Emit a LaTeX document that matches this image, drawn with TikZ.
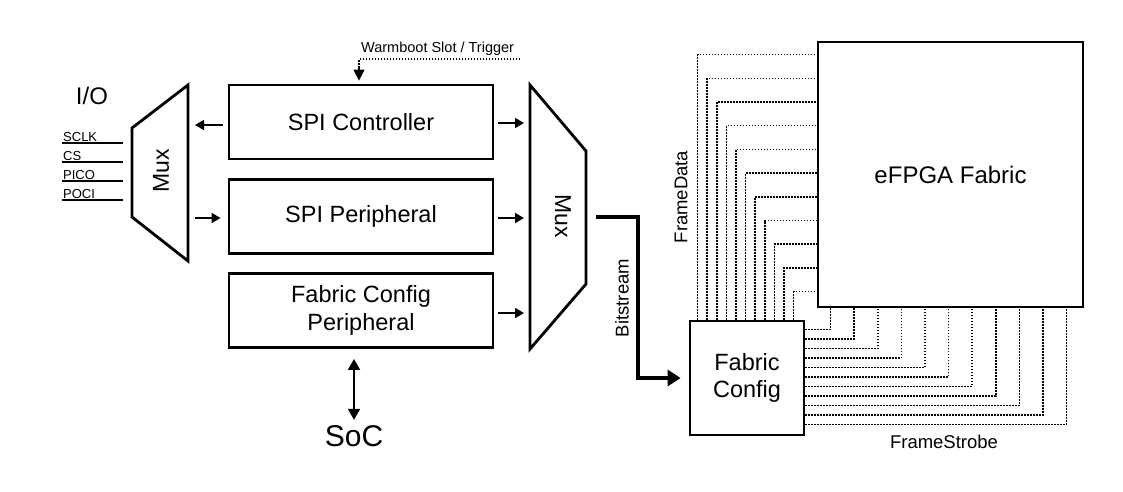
\documentclass[tikz,border=0pt]{standalone}
\usepackage{fontspec}
\setmainfont{Liberation Sans}
\usetikzlibrary{arrows.meta,calc}
\begin{document}
\begin{tikzpicture}[x=1pt,y=-1pt,
  blk/.style={draw,line width=2.8pt,minimum width=264pt,minimum height=74pt,inner sep=0pt,align=center,font=\fontsize{23.5}{27}\selectfont},
  muxline/.style={line width=2.8pt,line join=miter},
  muxlbl/.style={font=\fontsize{23}{26}\selectfont},
  sarrow/.style={line width=1.6pt,-{Triangle[length=9pt,width=10pt]}},
  dotline/.style={line width=1.5pt,dash pattern=on 1.5pt off 1.5pt},
  sig/.style={line width=2pt},
  siglbl/.style={font=\fontsize{13}{15}\selectfont,anchor=south west,inner sep=1pt}]
\useasboundingbox[fill=white] (0,0) rectangle (1123,491);

% left multiplexer (I/O side)
\draw[muxline] (132,128) -- (188,85) -- (188,261) -- (132,217) -- cycle;
\node[rotate=90,muxlbl] (lmux) at (161,171) {Mux};
\coordinate (lmuxR1) at (195,125);
\coordinate (lmuxR2) at (195,218);

% I/O pins
\node[font=\fontsize{24}{28}\selectfont] (io) at (92,96) {I/O};
\foreach \nm/\yy in {SCLK/143,CS/162,PICO/181,POCI/200}{
  \coordinate (p\nm a) at (62,\yy);
  \coordinate (p\nm b) at (123,\yy);
  \draw[sig] (p\nm a) -- (p\nm b);
  \node[siglbl] (l\nm) at (p\nm a) {\nm};
}

% SPI blocks
\node[blk] (ctrl) at (361,122) {SPI Controller};
\node[blk] (peri) at (361,216.5) {SPI Peripheral};
\node[blk] (fcp) at (361,310.5) {Fabric Config\\[1pt]Peripheral};

\draw[sarrow] ($(ctrl.west)+(-5,3)$) -- (lmuxR1);
\draw[sarrow] (lmuxR2) -- ($(peri.west)+(-7,1.5)$);

% right multiplexer
\draw[muxline] (530,85) -- (586,151) -- (586,284) -- (530,349) -- cycle;
\node[rotate=-90,muxlbl] (rmux) at (563,216) {Mux};
\coordinate (rmuxL1) at (524,123);
\coordinate (rmuxL2) at (524,218);
\coordinate (rmuxL3) at (524,313);
\draw[sarrow] ($(ctrl.east |- rmuxL1)+(4,0)$) -- (rmuxL1);
\draw[sarrow] ($(peri.east |- rmuxL2)+(4,0)$) -- (rmuxL2);
\draw[sarrow] ($(fcp.east |- rmuxL3)+(4,0)$) -- (rmuxL3);

% warmboot trigger
\node[font=\fontsize{14.5}{17}\selectfont,anchor=south west,inner sep=1pt] (wb) at (360,57) {Warmboot Slot / Trigger};
\coordinate (wbend) at (520,59);
\coordinate (wbx) at (359,59);
\draw[dotline,line width=1.3pt] (wbend) -- (wbx) -- ++(0,10);
\draw[-{Triangle[length=11pt,width=11pt]},line width=1.4pt] ($(wbx)+(0,8)$) -- ($(ctrl.north -| wbx)+(0,-3)$);

% SoC link
\node[font=\fontsize{30}{34}\selectfont] (soc) at (354,436) {SoC};
\draw[line width=1.8pt,{Triangle[length=11pt,width=12pt]}-{Triangle[length=11pt,width=12pt]}] ($(soc.north |- fcp.south)+(0,10)$) -- ($(soc.north)+(0,-2)$);

% fabric and config
\node[draw,line width=2.8pt,minimum width=265pt,minimum height=265pt,inner sep=0pt,font=\fontsize{24}{28}\selectfont] (fab) at (950.5,174.5) {eFPGA Fabric};
\node[draw,line width=2.8pt,minimum width=114pt,minimum height=114pt,inner sep=0pt,align=center,font=\fontsize{23.5}{27}\selectfont] (fc) at (747,378) {Fabric\\Config};

% bitstream
\coordinate (bsA) at (596,217);
\draw[line width=4pt,line join=miter,-{Triangle[length=13pt,width=16pt]}] (bsA) -- (638,217) |- ($(fc.west)+(-8,0)$);
\node[rotate=90,font=\fontsize{18.5}{22}\selectfont] (bsl) at (622,298) {Bitstream};

% frame data lines
\foreach \i in {0,...,10}{
  \draw[dotline] ($(fc.north west)+({9+9.6*\i},0)$) |- ($(fab.north west)+(0,{14+23.7*\i})$);
}
\node[rotate=90,font=\fontsize{18.5}{22}\selectfont] (fdl) at (681,197) {FrameData};

% frame strobe lines
\foreach \i in {0,...,10}{
  \draw[dotline] ($(fc.north east)+(0,{10+9.5*\i})$) -| ($(fab.south west)+({14+23.6*\i},0)$);
}
\node[font=\fontsize{18.5}{22}\selectfont] (fsl) at (944,442) {FrameStrobe};
\end{tikzpicture}
\end{document}
